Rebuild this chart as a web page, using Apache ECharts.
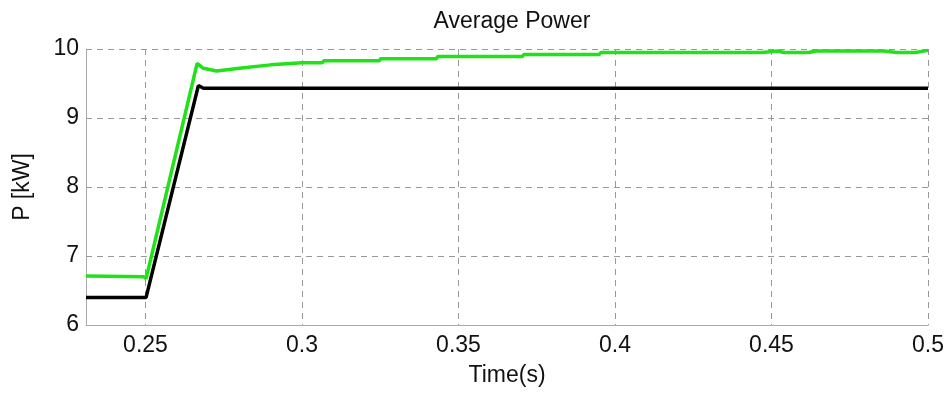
<!DOCTYPE html>
<html>
<head>
<meta charset="utf-8">
<script src="https://cdn.jsdelivr.net/npm/echarts@6/dist/echarts.min.js"></script>
<style>
  html, body { margin: 0; padding: 0; background: #fff; }
  #chart { width: 949px; height: 394px; }
</style>
</head>
<body>
<div id="chart"></div>
<script>
// time (s) and power (kW)
const timeBlack = [0.231, 0.2502, 0.2669, 0.2685, 0.5]
const powerBlack = [6.40, 6.40, 9.47, 9.43, 9.43]

const timeGreen = [0.231, 0.2495, 0.2502, 0.2665, 0.2685, 0.2727, 0.28, 0.29, 0.30, 0.3065, 0.3070, 0.3247, 0.3252, 0.3429, 0.3434, 0.3704, 0.3709, 0.395, 0.3955, 0.447, 0.4475, 0.452, 0.454, 0.462, 0.464, 0.486, 0.49, 0.496, 0.5]
const powerGreen = [6.71, 6.70, 6.67, 9.79, 9.72, 9.68, 9.72, 9.77, 9.80, 9.80, 9.83, 9.83, 9.86, 9.86, 9.89, 9.89, 9.92, 9.92, 9.95, 9.95, 9.97, 9.97, 9.95, 9.95, 9.97, 9.97, 9.95, 9.95, 9.98]

const xTicks = [0.25, 0.3, 0.35, 0.4, 0.45, 0.5]

const pairs = (xs, ys) => xs.map((x, i) => [x, ys[i]])

const chart = echarts.init(document.getElementById('chart'))
const font = 'Liberation Sans, Arial, sans-serif'

chart.setOption({
  animation: false,
  title: {
    text: 'Average Power',
    left: 507,
    textAlign: 'center',
    top: 5,
    textStyle: { fontFamily: font, fontSize: 23, fontWeight: 'normal', color: '#111' },
  },
  grid: { left: 86, right: 21, top: 49, bottom: 69 },
  xAxis: {
    type: 'value',
    min: 0.231,
    max: 0.5,
    name: 'Time(s)',
    nameLocation: 'middle',
    nameGap: 39,
    nameTextStyle: { fontFamily: font, fontSize: 23, color: '#111' },
    axisLine: { show: true, lineStyle: { color: '#aaa', width: 1 } },
    axisTick: { show: false, customValues: xTicks },
    axisLabel: {
      customValues: xTicks,
      fontFamily: font, fontSize: 23, color: '#111', margin: 9,
      formatter: (v) => String(+v.toFixed(2)),
    },
    splitLine: { show: true, lineStyle: { color: '#999', type: [6, 5], width: 1 } },
  },
  yAxis: {
    type: 'value',
    min: 6,
    max: 10,
    interval: 1,
    name: 'P [kW]',
    nameLocation: 'middle',
    nameGap: 52,
    nameTextStyle: { fontFamily: font, fontSize: 23, color: '#111' },
    axisLine: { show: true, lineStyle: { color: '#aaa', width: 1 } },
    axisTick: { show: false },
    axisLabel: { fontFamily: font, fontSize: 23, color: '#111', margin: 7 },
    splitLine: { show: true, lineStyle: { color: '#999', type: [6, 5], width: 1 } },
  },
  series: [
    {
      type: 'line',
      data: pairs(timeGreen, powerGreen),
      showSymbol: false,
      lineStyle: { color: '#22e01a', width: 3.5 },
      z: 2,
    },
    {
      type: 'line',
      data: pairs(timeBlack, powerBlack),
      showSymbol: false,
      lineStyle: { color: '#000', width: 3.5 },
      z: 3,
    },
  ],
})
</script>
</body>
</html>
